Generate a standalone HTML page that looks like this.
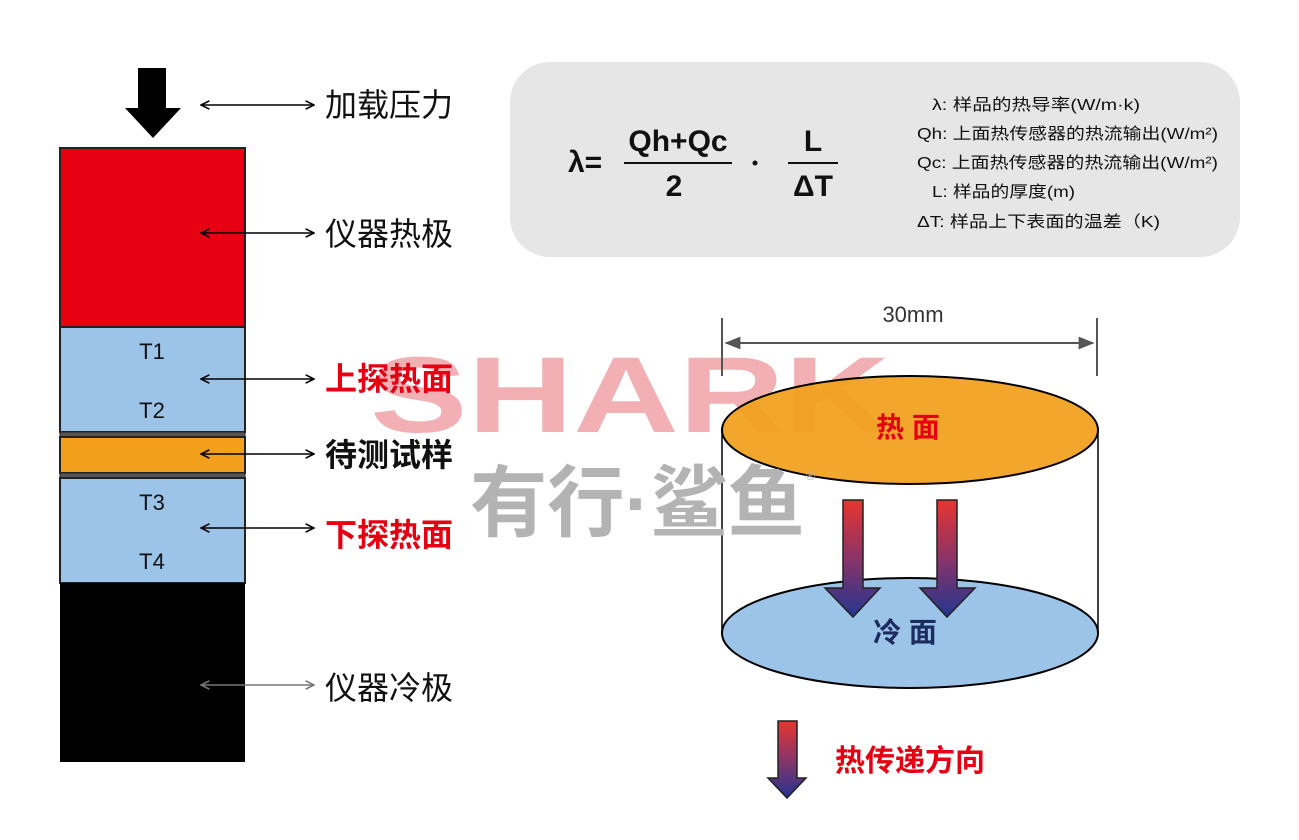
<!DOCTYPE html>
<html><head><meta charset="utf-8"><style>
html,body{margin:0;padding:0;background:#fff;}
svg{display:block;}
text{font-family:"Liberation Sans","Noto Sans CJK SC",sans-serif;}
</style></head><body>
<svg width="1299" height="840" viewBox="0 0 1299 840" xmlns="http://www.w3.org/2000/svg">
<defs>
<linearGradient id="g" x1="0" y1="0" x2="0" y2="1">
<stop offset="0" stop-color="#e8352f"/><stop offset="0.5" stop-color="#8a3468"/><stop offset="1" stop-color="#23358f"/>
</linearGradient>
<marker id="ah" viewBox="0 0 10 10" refX="9" refY="5" markerWidth="7" markerHeight="7" orient="auto-start-reverse"><path d="M1,1 L9,5 L1,9" fill="none" stroke="#000" stroke-width="1.5"/></marker>
<marker id="ahg" viewBox="0 0 10 10" refX="9" refY="5" markerWidth="7" markerHeight="7" orient="auto-start-reverse"><path d="M1,1 L9,5 L1,9" fill="none" stroke="#777" stroke-width="1.5"/></marker>
<marker id="ag" viewBox="0 0 10 10" refX="9" refY="5" markerWidth="8" markerHeight="8" orient="auto-start-reverse"><path d="M0,1 L10,5 L0,9 Z" fill="#555"/></marker>
</defs>

<!-- watermark (behind labels) -->
<text x="370" y="432" font-size="108" font-weight="bold" fill="#f2b0b5" textLength="520" lengthAdjust="spacingAndGlyphs">SHARK</text>

<!-- top load arrow -->
<path d="M138,68 H166 V108 H181 L153,138 L125,108 H138 Z" fill="#000"/>

<!-- column -->
<rect x="60" y="148" width="185" height="179" fill="#e60012" stroke="#222" stroke-width="2"/>
<rect x="60" y="327" width="185" height="105" fill="#9bc4e8" stroke="#222" stroke-width="2"/>
<rect x="60" y="432" width="185" height="5" fill="#555" stroke="#222" stroke-width="1"/>
<rect x="60" y="437" width="185" height="36" fill="#f29f1c" stroke="#222" stroke-width="2"/>
<rect x="60" y="473" width="185" height="5" fill="#555" stroke="#222" stroke-width="1"/>
<rect x="60" y="478" width="185" height="105" fill="#9bc4e8" stroke="#222" stroke-width="2"/>
<rect x="60" y="583" width="185" height="179" fill="#000"/>
<g font-size="22" text-anchor="middle" fill="#111">
<text x="152" y="359">T1</text><text x="152" y="418">T2</text>
<text x="152" y="510">T3</text><text x="152" y="569">T4</text>
</g>

<!-- connectors -->
<g stroke="#000" stroke-width="1.5" fill="none">
<line x1="201" y1="105" x2="314" y2="105" marker-start="url(#ah)" marker-end="url(#ah)"/>
<line x1="201" y1="233" x2="314" y2="233" marker-start="url(#ah)" marker-end="url(#ah)"/>
<line x1="201" y1="379" x2="314" y2="379" marker-start="url(#ah)" marker-end="url(#ah)"/>
<line x1="201" y1="454" x2="314" y2="454" marker-start="url(#ah)" marker-end="url(#ah)"/>
<line x1="201" y1="528" x2="314" y2="528" marker-start="url(#ah)" marker-end="url(#ah)"/>
</g>
<line x1="201" y1="685" x2="314" y2="685" stroke="#777" stroke-width="1.5" marker-start="url(#ahg)" marker-end="url(#ahg)"/>

<g font-size="32">
<text x="325" y="116" fill="#111">加载压力</text>
<text x="325" y="245" fill="#111">仪器热极</text>
<text x="325" y="390" fill="#e60012" font-weight="bold">上探热面</text>
<text x="325" y="466" fill="#111" font-weight="bold">待测试样</text>
<text x="325" y="546" fill="#e60012" font-weight="bold">下探热面</text>
<text x="325" y="699" fill="#111">仪器冷极</text>
</g>

<!-- formula box -->
<rect x="510" y="62" width="730" height="195" rx="40" fill="#e6e6e6"/>
<g font-size="30" font-weight="bold" fill="#111">
<text x="568" y="172">λ=</text>
<text x="678" y="151" text-anchor="middle">Qh+Qc</text>
<text x="674" y="196" text-anchor="middle">2</text>
<text x="813" y="151" text-anchor="middle">L</text>
<text x="813" y="196" text-anchor="middle">ΔT</text>
</g>
<line x1="624" y1="163" x2="732" y2="163" stroke="#111" stroke-width="2"/>
<line x1="788" y1="163" x2="838" y2="163" stroke="#111" stroke-width="2"/>
<circle cx="755" cy="163" r="2.5" fill="#111"/>
<g font-size="16" fill="#111">
<text x="932" y="110" textLength="208" lengthAdjust="spacingAndGlyphs">λ: 样品的热导率(W/m·k)</text>
<text x="917" y="139" textLength="301" lengthAdjust="spacingAndGlyphs">Qh: 上面热传感器的热流输出(W/m²)</text>
<text x="917" y="168" textLength="301" lengthAdjust="spacingAndGlyphs">Qc: 上面热传感器的热流输出(W/m²)</text>
<text x="932" y="197" textLength="143" lengthAdjust="spacingAndGlyphs">L: 样品的厚度(m)</text>
<text x="917" y="227" textLength="243" lengthAdjust="spacingAndGlyphs">ΔT: 样品上下表面的温差（K)</text>
</g>

<!-- dimension -->
<line x1="722" y1="318" x2="722" y2="376" stroke="#555" stroke-width="2"/>
<line x1="1097" y1="318" x2="1097" y2="376" stroke="#555" stroke-width="2"/>
<line x1="726" y1="343" x2="1093" y2="343" stroke="#555" stroke-width="2" marker-start="url(#ag)" marker-end="url(#ag)"/>
<text x="913" y="322" font-size="22" fill="#333" text-anchor="middle">30mm</text>

<!-- cylinder -->
<ellipse cx="910" cy="633" rx="188" ry="55" fill="#9bc4e8" stroke="#000" stroke-width="2"/>
<line x1="722" y1="430" x2="722" y2="633" stroke="#000" stroke-width="1.5"/>
<line x1="1098" y1="430" x2="1098" y2="633" stroke="#000" stroke-width="1.5"/>

<ellipse cx="910" cy="430" rx="188" ry="54" fill="#f29f1c" fill-opacity="0.93" stroke="#000" stroke-width="2"/>
<text x="908" y="437" font-size="28" font-weight="bold" fill="#e60012" text-anchor="middle">热 面</text>

<text x="470" y="530" font-size="78" font-weight="bold" fill="#b3b3b3" textLength="335" lengthAdjust="spacingAndGlyphs">有行·鲨鱼</text>
<text x="806" y="480" font-size="12" fill="#b3b3b3">®</text>

<path d="M843,500 H863 V588 H880 L853,617 L825,588 H843 Z" fill="url(#g)" stroke="#222" stroke-width="1.5"/>
<path d="M937,500 H957 V588 H975 L947,617 L920,588 H937 Z" fill="url(#g)" stroke="#222" stroke-width="1.5"/>
<text x="905" y="642" font-size="28" font-weight="bold" fill="#1d2b5e" text-anchor="middle">冷 面</text>

<!-- legend -->
<path d="M778,721 H797 V778 H806 L787,798 L768,778 H778 Z" fill="url(#g)" stroke="#222" stroke-width="1.5"/>
<text x="835" y="771" font-size="30" font-weight="bold" fill="#e60012">热传递方向</text>
</svg>
</body></html>
